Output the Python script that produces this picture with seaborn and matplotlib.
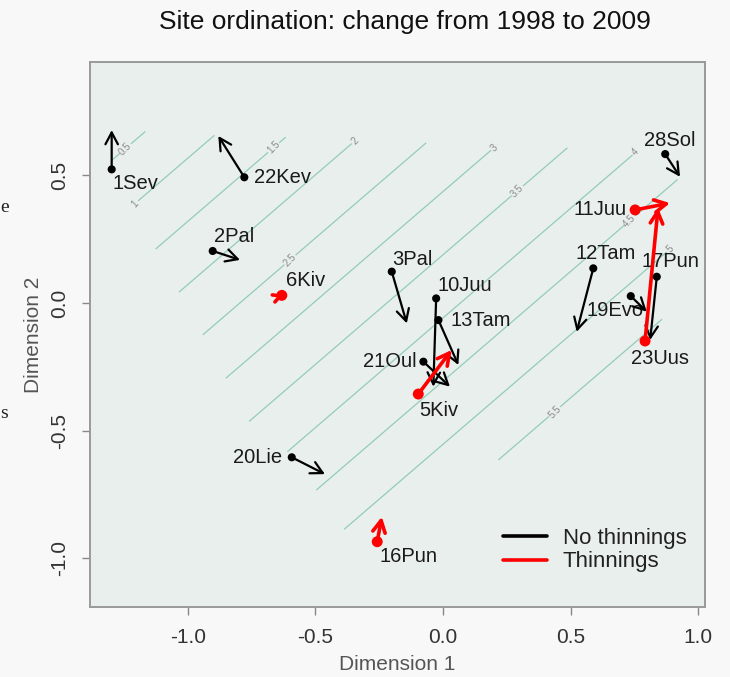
import numpy as np
import pandas as pd
import matplotlib
matplotlib.use("Agg")
import matplotlib.pyplot as plt
from matplotlib.path import Path
from matplotlib.lines import Line2D
import seaborn as sns

# Site scores on the two ordination dimensions, 1998 (start) and 2009 (end)
sites = ["1Sev", "22Kev", "2Pal", "6Kiv", "3Pal", "10Juu", "13Tam", "21Oul", "5Kiv",
         "12Tam", "17Pun", "19Evo", "23Uus", "11Juu", "28Sol", "20Lie", "16Pun"]
x1998 = [-1.299, -0.779, -0.903, -0.632, -0.201, -0.027, -0.018, -0.077, -0.097,
         0.589, 0.838, 0.736, 0.792, 0.753, 0.871, -0.593, -0.258]
y1998 = [0.524, 0.493, 0.204, 0.030, 0.123, 0.018, -0.067, -0.230, -0.357,
         0.136, 0.103, 0.027, -0.149, 0.365, 0.584, -0.605, -0.936]
x2009 = [-1.299, -0.881, -0.796, -0.624, -0.142, -0.038, 0.060, 0.027, 0.034,
         0.524, 0.812, 0.799, 0.843, 0.890, 0.929, -0.463, -0.240]
y2009 = [0.678, 0.655, 0.169, 0.033, -0.080, -0.328, -0.243, -0.328, -0.184,
         -0.113, -0.145, -0.034, 0.373, 0.392, 0.495, -0.671, -0.838]
treatment = ["No thinnings", "No thinnings", "No thinnings", "Thinnings", "No thinnings",
             "No thinnings", "No thinnings", "No thinnings", "Thinnings", "No thinnings",
             "No thinnings", "No thinnings", "Thinnings", "Thinnings", "No thinnings",
             "No thinnings", "Thinnings"]

# Fitted surface (intercept, dim 1, dim 2), its contour levels and the
# region of the ordination space where it was evaluated
surface_coef = [3.882, 1.735, -2.018]
surface_levels = [0.5, 1.0, 1.5, 2.0, 2.5, 3.0, 3.5, 4.0, 4.5, 5.0, 5.5]
domain_x = [-1.30, -1.30, -1.22, -0.76, -0.61, -0.39, -0.26, 0.205, 0.80, 0.86,
            0.93, 0.87, -0.88]
domain_y = [0.68, 0.52, 0.38, -0.47, -0.59, -0.89, -0.95, -0.63, -0.16, -0.07,
            0.49, 0.60, 0.66]

df = pd.DataFrame({"site": sites, "x1998": x1998, "y1998": y1998,
                   "x2009": x2009, "y2009": y2009, "treatment": treatment})

# label offsets (pixels) from the 1998 point
label_offsets = {
    "1Sev": (24, -14), "22Kev": (38, 0), "2Pal": (21, 14), "6Kiv": (24, 15),
    "3Pal": (21, 12), "10Juu": (29, 13), "13Tam": (42, 0), "21Oul": (-34, 0),
    "5Kiv": (21, -16), "12Tam": (12, 15), "17Pun": (14, 15), "19Evo": (-16, -14),
    "23Uus": (15, -17), "11Juu": (-35, 0), "28Sol": (5, 14), "20Lie": (-34, 0),
    "16Pun": (31, -15),
}
contour_label_pos = [(-1.239, 0.60), (-1.20, 0.384), (-0.652, 0.60), (-0.306, 0.659),
                     (-0.60, 0.169), (0.204, 0.607), (0.295, 0.437), (0.759, 0.587),
                     (0.746, 0.312), (0.91, 0.227), (0.446, -0.433)]

sns.set_style("ticks")
plt.rcParams["font.family"] = ["Liberation Sans", "DejaVu Sans"]

BG = "#f8f8f8"
PANEL = "#e9efed"
colors = {"No thinnings": "black", "Thinnings": "#ff0000"}

fig = plt.figure(figsize=(7.30, 6.77), dpi=100, facecolor=BG)
ax = fig.add_axes([90 / 730, 1 - 607 / 677, 615 / 730, 545 / 677])
ax.set_facecolor(PANEL)

# contour surface, evaluated only inside the sampled region
domain = Path(list(zip(domain_x + domain_x[:1], domain_y + domain_y[:1])))
gx, gy = np.meshgrid(np.linspace(min(domain_x), max(domain_x), 220),
                     np.linspace(min(domain_y), max(domain_y), 220))
gz = surface_coef[0] + surface_coef[1] * gx + surface_coef[2] * gy
inside = domain.contains_points(np.c_[gx.ravel(), gy.ravel()]).reshape(gx.shape)
gz = np.ma.masked_where(~inside, gz)

cs = ax.contour(gx, gy, gz, levels=surface_levels, colors="#93ccb9",
                linewidths=0.9, zorder=1)
ax.clabel(cs, inline=True, fontsize=7, colors="#8a8a8a", fmt="%g",
          manual=contour_label_pos, inline_spacing=2)

# arrows from 1998 to 2009 positions
for _, r in df.iterrows():
    thin = r["treatment"] == "Thinnings"
    shift = np.hypot(r["x2009"] - r["x1998"], r["y2009"] - r["y1998"])
    head = max(0.6, min(1.0, shift / 0.06))
    ax.annotate("", xy=(r["x2009"], r["y2009"]), xytext=(r["x1998"], r["y1998"]),
                arrowprops=dict(arrowstyle=f"->,head_length={0.85 * head:.2f},"
                                           f"head_width={0.45 * head:.2f}",
                                color=colors[r["treatment"]],
                                lw=2.6 if thin else 1.6,
                                shrinkA=0, shrinkB=0, mutation_scale=10),
                zorder=3)

sns.scatterplot(data=df, x="x1998", y="y1998", hue="treatment", palette=colors,
                size="treatment", sizes={"No thinnings": 34, "Thinnings": 62},
                linewidth=0, legend=False, ax=ax, zorder=4)

for _, r in df.iterrows():
    dx, dy = label_offsets[r["site"]]
    ax.annotate(r["site"], xy=(r["x1998"], r["y1998"]), xytext=(dx, dy),
                textcoords="offset pixels", ha="center", va="center",
                fontsize=14.5, color="#1a1a1a", zorder=2)

ax.set_xlim(-1.384, 1.027)
ax.set_ylim(-1.192, 0.945)
ax.set_xticks([-1.0, -0.5, 0.0, 0.5, 1.0])
ax.set_yticks([-1.0, -0.5, 0.0, 0.5])
ax.set_xticklabels(["-1.0", "-0.5", "0.0", "0.5", "1.0"])
ax.set_yticklabels(["-1.0", "-0.5", "0.0", "0.5"], rotation=90, va="center")
ax.tick_params(axis="both", direction="out", length=6, width=1.0, color="#888888",
               labelsize=15, labelcolor="#333333", pad=9)
for sp in ax.spines.values():
    sp.set_color("#999999")
    sp.set_linewidth(1.4)

ax.set_xlabel("Dimension 1", fontsize=15, color="#555555", labelpad=6)
ax.set_ylabel("Dimension 2", fontsize=15, color="#555555", labelpad=5)
fig.text(405 / 730, 1 - 22 / 677, "Site ordination: change from 1998 to 2009",
         ha="center", va="center", fontsize=19, color="#111111")

handles = [Line2D([0], [0], color="black", lw=2.6),
           Line2D([0], [0], color="#ff0000", lw=2.6)]
ax.legend(handles, ["No thinnings", "Thinnings"], loc="lower left",
          bbox_to_anchor=(0.639, 0.027), frameon=False, fontsize=16,
          handlelength=2.0, handletextpad=0.7, labelspacing=0.12,
          labelcolor="#222222")

# page text at the left edge
fig.text(0.5 / 730, 1 - 208 / 677, "e", family="Liberation Serif", fontsize=14,
         ha="left", va="center", color="#222222")
fig.text(0.5 / 730, 1 - 413 / 677, "s", family="Liberation Serif", fontsize=14,
         ha="left", va="center", color="#222222")

fig.savefig("out.png", dpi=100, facecolor=BG)
